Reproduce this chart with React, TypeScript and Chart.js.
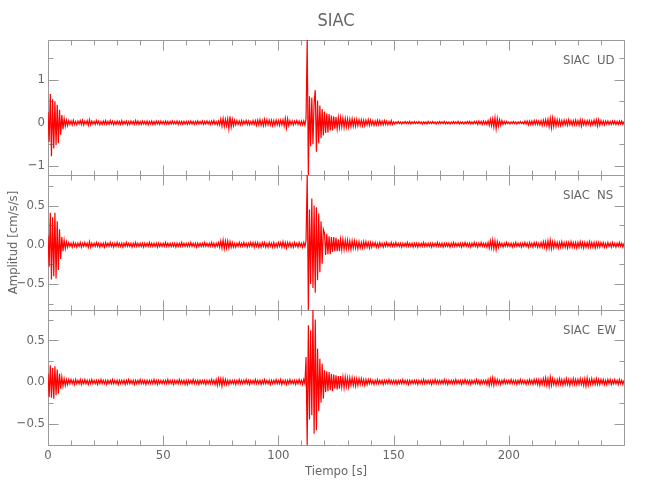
import React, { useEffect, useRef } from "react";
import { Chart, registerables } from "chart.js";

Chart.register(...registerables);

// ---------- text ----------
const TITLE = "SIAC";
const STATION = "SIAC";
const X_LABEL = "Tiempo [s]";
const Y_LABEL = "Amplitud [cm/s/s]";
const COMPONENTS = ["UD", "NS", "EW"];

// ---------- axes ----------
const DT = 0.5; // sample spacing of the arrays below, seconds
const X_MIN = 0;
const X_MAX = 250;
const X_TICKS = [0, 50, 100, 150, 200];
const X_MINOR_STEP = 10;

const UD_TICKS = [-1, 0, 1];
const NS_TICKS = [-0.5, 0, 0.5];
const EW_TICKS = [-0.5, 0, 0.5];
const UD_MINOR_STEP = 0.5;
const NS_MINOR_STEP = 0.25;
const EW_MINOR_STEP = 0.25;
const UD_DECIMALS = 0;
const NS_DECIMALS = 1;
const EW_DECIMALS = 1;

// ---------- series (cm/s/s), one value every DT seconds from t = 0 ----------
const UD = [
  .25,-.45,.67,-.78,.55,-.60,.50,-.52,.42,-.48,.30,-.28,.18,-.15,.10,-.08,.06,-.07,.05,-.04,
  .04,-.05,.06,-.04,.03,-.05,.04,-.03,.05,-.04,.06,-.05,.04,-.03,.05,-.06,.07,-.05,.04,-.03,
  .03,-.04,.05,-.03,.04,-.05,.03,-.04,.04,-.03,.05,-.04,.03,-.04,.05,-.03,.04,-.05,.03,-.04,
  .04,-.03,.03,-.04,.05,-.04,.03,-.03,.04,-.05,.03,-.04,.04,-.03,.03,-.04,.05,-.03,.04,-.04,
  .03,-.04,.04,-.03,.03,-.04,.04,-.05,.03,-.03,.04,-.04,.03,-.04,.04,-.03,.03,-.04,.04,-.03,
  .03,-.03,.04,-.03,.03,-.04,.03,-.03,.04,-.03,.03,-.03,.04,-.04,.03,-.03,.03,-.04,.03,-.03,
  .03,-.04,.03,-.03,.04,-.03,.03,-.04,.03,-.03,.04,-.03,.03,-.03,.04,-.04,.03,-.03,.04,-.03,
  .03,-.04,.04,-.03,.05,-.04,.03,-.05,.04,-.05,.09,-.08,.10,-.09,.08,-.07,.09,-.14,.15,-.10,
  .08,-.07,.06,-.05,.05,-.04,.04,-.05,.05,-.04,.04,-.03,.05,-.04,.04,-.05,.03,-.04,.05,-.04,
  .05,-.06,.06,-.05,.07,-.06,.05,-.07,.08,-.06,.07,-.05,.06,-.05,.06,-.07,.05,-.06,.06,-.05,
  .05,-.06,.06,-.05,.07,-.08,.10,-.12,.09,-.07,.05,-.04,.04,-.05,.04,-.03,.05,-.04,.04,-.05,
  .04,-.05,.04,-.06,.10,1.93,-1.22,.62,-.55,.58,-.50,.48,.76,-.68,.52,-.48,.40,-.36,.32,-.30,
  .26,-.24,.22,-.23,.20,-.18,.17,-.18,.15,-.14,.13,-.14,.12,-.11,.12,-.10,.11,-.11,.10,-.09,
  .09,-.10,.08,-.09,.09,-.08,.07,-.08,.08,-.07,.07,-.06,.07,-.07,.06,-.07,.06,-.05,.07,-.06,
  .06,-.05,.05,-.06,.04,-.05,.06,-.04,.05,-.05,.04,-.05,.05,-.04,.04,-.05,.03,-.04,.05,-.04,
  .02,-.03,.02,-.02,.03,-.02,.02,-.03,.02,-.02,.03,-.02,.02,-.02,.03,-.03,.02,-.02,.03,-.02,
  .02,-.02,.03,-.02,.02,-.03,.02,-.02,.02,-.03,.03,-.02,.02,-.02,.03,-.02,.02,-.03,.02,-.02,
  .03,-.02,.02,-.02,.03,-.03,.02,-.02,.02,-.03,.02,-.02,.03,-.02,.02,-.02,.03,-.03,.02,-.02,
  .02,-.03,.02,-.02,.03,-.02,.03,-.03,.02,-.03,.03,-.02,.03,-.04,.04,-.03,.03,-.04,.04,-.03,
  .03,-.04,.05,-.06,.08,-.07,.09,-.10,.12,-.14,.10,-.08,.07,-.06,.05,-.04,.03,-.03,.03,-.02,
  .02,-.03,.02,-.02,.03,-.02,.02,-.03,.02,-.02,.03,-.02,.02,-.03,.04,-.03,.04,-.05,.04,-.04,
  .04,-.05,.05,-.04,.05,-.04,.04,-.05,.05,-.06,.06,-.05,.07,-.06,.08,-.09,.10,-.12,.11,-.09,
  .09,-.08,.07,-.06,.06,-.07,.05,-.06,.06,-.05,.05,-.06,.07,-.05,.05,-.06,.05,-.05,.06,-.05,
  .05,-.06,.07,-.08,.06,-.05,.05,-.06,.05,-.04,.05,-.06,.04,-.05,.06,-.05,.07,-.08,.07,-.06,
  .05,-.04,.04,-.05,.04,-.03,.04,-.04,.03,-.04,.04,-.03,.04,-.04,.03,-.04,.04,-.03,.04,-.04,
  .03,
];

const NS = [
  .12,-.28,.41,-.44,.35,-.40,.41,-.43,.30,-.32,.20,-.18,.10,-.08,.06,-.05,.04,-.03,.03,-.02,
  .02,-.03,.03,-.02,.02,-.03,.02,-.02,.03,-.03,.02,-.02,.03,-.02,.02,-.03,.04,-.03,.02,-.02,
  .02,-.02,.03,-.02,.02,-.03,.02,-.02,.02,-.03,.03,-.02,.02,-.02,.03,-.02,.02,-.03,.02,-.02,
  .03,-.02,.02,-.02,.02,-.03,.02,-.02,.03,-.02,.02,-.02,.02,-.03,.02,-.02,.03,-.02,.02,-.02,
  .02,-.02,.02,-.03,.02,-.02,.02,-.02,.03,-.02,.02,-.02,.02,-.02,.02,-.03,.02,-.02,.02,-.02,
  .02,-.02,.03,-.02,.02,-.02,.02,-.02,.02,-.02,.02,-.03,.02,-.02,.02,-.02,.03,-.02,.02,-.02,
  .02,-.02,.02,-.02,.03,-.02,.02,-.02,.02,-.03,.02,-.02,.02,-.02,.02,-.02,.03,-.02,.02,-.02,
  .02,-.02,.03,-.02,.02,-.03,.02,-.02,.03,-.03,.05,-.04,.06,-.05,.05,-.04,.05,-.04,.04,-.03,
  .03,-.03,.02,-.03,.02,-.02,.03,-.02,.02,-.02,.03,-.02,.02,-.03,.02,-.02,.03,-.02,.03,-.03,
  .03,-.02,.03,-.03,.02,-.03,.03,-.02,.03,-.03,.02,-.03,.03,-.02,.02,-.03,.03,-.03,.02,-.03,
  .03,-.02,.03,-.03,.04,-.03,.03,-.04,.03,-.02,.03,-.03,.02,-.03,.03,-.02,.02,-.03,.03,-.02,
  .02,-.03,.03,-.02,.05,.89,-.83,.45,-.50,.59,-.55,.50,-.61,.48,-.45,.40,-.35,.30,-.24,.20,
  .15,-.13,.14,-.12,.11,-.12,.10,-.09,.10,-.08,.09,-.08,.07,-.08,.07,-.06,.07,-.06,.06,-.05,
  .06,-.05,.05,-.06,.05,-.04,.05,-.04,.04,-.05,.04,-.04,.03,-.04,.04,-.03,.04,-.03,.03,-.04,
  .03,-.03,.03,-.02,.03,-.03,.02,-.03,.03,-.02,.02,-.03,.02,-.02,.03,-.02,.02,-.02,.03,-.02,
  .02,-.02,.03,-.02,.02,-.02,.02,-.03,.02,-.02,.02,-.02,.03,-.02,.02,-.02,.02,-.03,.02,-.02,
  .02,-.03,.02,-.02,.02,-.02,.03,-.02,.02,-.02,.02,-.02,.02,-.03,.02,-.02,.02,-.02,.03,-.02,
  .02,-.02,.02,-.03,.02,-.02,.02,-.02,.02,-.03,.02,-.02,.03,-.02,.02,-.02,.02,-.02,.02,-.03,
  .02,-.02,.03,-.02,.02,-.02,.02,-.03,.02,-.02,.03,-.02,.02,-.03,.02,-.02,.03,-.02,.02,-.02,
  .02,-.03,.03,-.04,.05,-.04,.06,-.05,.05,-.06,.04,-.03,.03,-.02,.02,-.03,.02,-.02,.03,-.02,
  .02,-.02,.02,-.03,.02,-.02,.03,-.02,.02,-.02,.02,-.03,.02,-.02,.03,-.02,.02,-.03,.03,-.02,
  .02,-.03,.03,-.02,.03,-.03,.02,-.03,.03,-.03,.04,-.03,.04,-.05,.05,-.04,.06,-.05,.04,-.04,
  .04,-.03,.03,-.04,.03,-.03,.04,-.03,.03,-.03,.03,-.04,.03,-.03,.04,-.03,.03,-.03,.03,-.04,
  .03,-.03,.04,-.03,.03,-.04,.03,-.03,.03,-.03,.04,-.03,.03,-.03,.03,-.04,.03,-.03,.03,-.03,
  .03,-.02,.03,-.03,.02,-.03,.03,-.02,.02,-.03,.03,-.02,.02,-.03,.02,-.02,.03,-.02,.02,-.03,
  .02,
];

const EW = [
  .10,-.18,.20,-.19,.17,-.20,.19,-.16,.15,-.14,.10,-.08,.06,-.05,.04,-.04,.03,-.03,.03,-.02,
  .03,-.02,.02,-.03,.03,-.02,.02,-.02,.03,-.03,.02,-.02,.03,-.02,.02,-.03,.02,-.02,.03,-.02,
  .02,-.02,.02,-.03,.02,-.02,.03,-.02,.02,-.02,.02,-.03,.02,-.02,.02,-.02,.03,-.02,.02,-.02,
  .02,-.03,.02,-.02,.02,-.02,.02,-.03,.02,-.02,.03,-.02,.02,-.02,.02,-.03,.02,-.02,.02,-.02,
  .03,-.02,.02,-.02,.02,-.03,.02,-.02,.02,-.02,.02,-.02,.03,-.02,.02,-.03,.02,-.02,.02,-.02,
  .02,-.02,.02,-.02,.03,-.02,.02,-.02,.02,-.03,.02,-.02,.02,-.02,.03,-.02,.02,-.02,.02,-.03,
  .02,-.03,.02,-.02,.02,-.02,.03,-.02,.02,-.02,.02,-.03,.02,-.02,.02,-.02,.02,-.03,.02,-.02,
  .02,-.02,.03,-.02,.02,-.03,.03,-.04,.04,-.03,.04,-.05,.04,-.03,.03,-.03,.02,-.03,.02,-.02,
  .02,-.02,.02,-.03,.02,-.02,.03,-.02,.02,-.02,.02,-.02,.03,-.02,.02,-.03,.02,-.02,.02,-.02,
  .03,-.02,.02,-.02,.02,-.03,.02,-.02,.03,-.02,.02,-.02,.02,-.03,.02,-.02,.02,-.02,.03,-.02,
  .02,-.02,.03,-.03,.02,-.02,.02,-.03,.02,-.02,.03,-.02,.02,-.02,.02,-.03,.02,-.02,.03,-.02,
  .02,-.03,.03,-.02,.30,-.756,.68,-.45,.62,-.40,.864,-.62,.75,-.58,.40,-.35,.28,-.25,.22,-.20,
  .14,-.12,.13,-.11,.12,-.10,.10,-.11,.09,-.08,.08,-.09,.07,-.08,.07,-.06,.06,-.07,.06,-.05,
  .05,-.06,.05,-.04,.05,-.04,.04,-.05,.04,-.04,.04,-.03,.04,-.03,.03,-.04,.03,-.03,.03,-.02,
  .03,-.02,.02,-.03,.02,-.02,.03,-.02,.02,-.02,.02,-.03,.02,-.02,.02,-.02,.03,-.02,.02,-.02,
  .02,-.02,.02,-.03,.02,-.02,.02,-.02,.03,-.02,.02,-.02,.02,-.03,.02,-.02,.02,-.02,.02,-.02,
  .02,-.03,.02,-.02,.02,-.02,.03,-.02,.02,-.02,.02,-.02,.02,-.03,.02,-.02,.03,-.02,.02,-.02,
  .02,-.02,.02,-.02,.03,-.02,.02,-.03,.02,-.02,.02,-.02,.02,-.02,.03,-.02,.02,-.02,.02,-.03,
  .02,-.02,.03,-.02,.02,-.02,.02,-.03,.02,-.02,.02,-.02,.03,-.02,.02,-.03,.02,-.02,.02,-.02,
  .02,-.03,.03,-.04,.04,-.03,.05,-.04,.04,-.03,.03,-.02,.02,-.03,.02,-.02,.03,-.02,.02,-.02,
  .02,-.02,.03,-.02,.02,-.02,.02,-.03,.02,-.02,.03,-.02,.02,-.02,.02,-.03,.02,-.02,.03,-.02,
  .02,-.03,.03,-.02,.03,-.03,.03,-.04,.03,-.03,.04,-.03,.05,-.04,.04,-.05,.06,-.04,.04,-.03,
  .03,-.04,.03,-.03,.04,-.03,.03,-.04,.03,-.03,.04,-.03,.03,-.04,.03,-.03,.04,-.03,.03,-.03,
  .03,-.03,.04,-.03,.03,-.04,.04,-.05,.05,-.04,.03,-.03,.04,-.03,.03,-.03,.04,-.03,.03,-.03,
  .03,-.02,.03,-.03,.02,-.03,.03,-.02,.03,-.03,.02,-.02,.03,-.02,.02,-.03,.03,-.02,.02,-.03,
  .02,
];

// ---------- style / layout ----------
const W = 650;
const H = 500;
const PANEL_TOP = 40;
const PANEL_H = 135;
const PLOT_LEFT = 48;
const PLOT_RIGHT_PAD = 26;
const XAXIS_H = 34;
const MAJOR_LEN = 10;
const MINOR_LEN = 5;
const FONT = "'Liberation Sans Narrow', 'DejaVu Sans Condensed', 'DejaVu Sans', sans-serif";
const TEXT_COLOR = "#666666";
const AXIS_COLOR = "#9a9a9a";
const LINE_COLOR = "#ff0000";
const LINE_WIDTH = 1.2;

const SERIES = [UD, NS, EW];
const Y_TICKS = [UD_TICKS, NS_TICKS, EW_TICKS];
const Y_MINOR = [UD_MINOR_STEP, NS_MINOR_STEP, EW_MINOR_STEP];
const Y_DECIMALS = [UD_DECIMALS, NS_DECIMALS, EW_DECIMALS];

const fmt = (v: number, d: number) => {
  const s = Math.abs(v).toFixed(d);
  return v < -1e-9 ? "\u2212" + s : s;
};

const framePlugin = {
  id: "seisFrame",
  beforeDatasetsDraw(chart: any, _args: any, opts: any) {
    const { ctx, chartArea: a, scales } = chart;
    const xs = scales.x;
    const ys = scales.y;
    const L = Math.round(a.left) + 0.5;
    const R = Math.round(a.right) + 0.5;
    const T = Math.round(a.top) + 0.5;
    const B = Math.round(a.bottom) + 0.5;
    ctx.save();
    ctx.strokeStyle = AXIS_COLOR;
    ctx.lineWidth = 1;
    ctx.beginPath();
    ctx.rect(L, T, R - L, B - T);
    const nx = Math.round((X_MAX - X_MIN) / X_MINOR_STEP);
    for (let i = 0; i <= nx; i++) {
      const v = X_MIN + i * X_MINOR_STEP;
      const px = Math.round(xs.getPixelForValue(v)) + 0.5;
      const len = X_TICKS.includes(v) ? MAJOR_LEN : MINOR_LEN;
      ctx.moveTo(px, B);
      ctx.lineTo(px, B - len);
      ctx.moveTo(px, T);
      ctx.lineTo(px, T + len);
    }
    const step = opts.minorStep;
    const i0 = Math.ceil(ys.min / step - 1e-9);
    const i1 = Math.floor(ys.max / step + 1e-9);
    for (let i = i0; i <= i1; i++) {
      const v = i * step;
      const py = Math.round(ys.getPixelForValue(v)) + 0.5;
      const major = opts.major.some((m: number) => Math.abs(m - v) < 1e-9);
      const len = major ? MAJOR_LEN : MINOR_LEN;
      ctx.moveTo(L, py);
      ctx.lineTo(L + len, py);
      ctx.moveTo(R, py);
      ctx.lineTo(R - len, py);
    }
    ctx.stroke();
    ctx.fillStyle = TEXT_COLOR;
    ctx.font = `13px ${FONT}`;
    ctx.textBaseline = "middle";
    ctx.textAlign = "left";
    ctx.fillText(STATION, a.right - 61, a.top + 21);
    ctx.fillText(opts.component, a.right - 27, a.top + 21);
    ctx.restore();
  },
};

function makeConfig(i: number): any {
  const values = SERIES[i];
  const top = PANEL_TOP + i * PANEL_H;
  const bottom = top + PANEL_H;
  const isFirst = i === 0;
  const isMid = i === 1;
  const isLast = i === SERIES.length - 1;
  const font = { family: FONT, size: 13 };
  return {
    type: "line",
    data: {
      datasets: [
        {
          data: values.map((v, k) => ({ x: X_MIN + k * DT, y: v })),
          borderColor: LINE_COLOR,
          borderWidth: LINE_WIDTH,
          pointRadius: 0,
          pointHoverRadius: 0,
          tension: 0,
          fill: false,
        },
      ],
    },
    options: {
      responsive: false,
      animation: false,
      events: [],
      parsing: false,
      normalized: true,
      layout: {
        padding: {
          left: 0,
          right: PLOT_RIGHT_PAD,
          top: isFirst ? 0 : top,
          bottom: isLast ? H - bottom - XAXIS_H : H - bottom,
        },
      },
      plugins: {
        legend: { display: false },
        tooltip: { enabled: false },
        title: {
          display: isFirst,
          fullSize: false,
          text: TITLE,
          color: TEXT_COLOR,
          font: { family: FONT, size: 18, weight: "normal", lineHeight: 1.2 },
          padding: { top: 11, bottom: PANEL_TOP - 11 - 18 * 1.2 },
        },
        seisFrame: { major: Y_TICKS[i], minorStep: Y_MINOR[i], component: COMPONENTS[i] },
      },
      scales: {
        x: {
          type: "linear",
          min: X_MIN,
          max: X_MAX,
          display: isLast,
          afterBuildTicks: (s: any) => {
            s.ticks = X_TICKS.map((v) => ({ value: v }));
          },
          ticks: {
            color: TEXT_COLOR,
            font,
            padding: 3,
            maxRotation: 0,
            autoSkip: false,
            callback: (v: any) => String(v),
          },
          grid: { display: false, drawTicks: false },
          border: { display: false },
          title: {
            display: true,
            text: X_LABEL,
            color: TEXT_COLOR,
            font,
            padding: { top: 1, bottom: 0 },
          },
          afterFit: (s: any) => {
            s.height = isLast ? XAXIS_H : 0;
          },
        },
        y: {
          type: "linear",
          min: Math.min(...values),
          max: Math.max(...values),
          afterBuildTicks: (s: any) => {
            s.ticks = Y_TICKS[i].map((v) => ({ value: v }));
          },
          ticks: {
            color: TEXT_COLOR,
            font,
            padding: 3,
            autoSkip: false,
            callback: (v: any) => fmt(Number(v), Y_DECIMALS[i]),
          },
          grid: { display: false, drawTicks: false },
          border: { display: false },
          title: {
            display: isMid,
            text: Y_LABEL,
            color: TEXT_COLOR,
            font,
            padding: { top: 6, bottom: 0 },
          },
          afterFit: (s: any) => {
            s.width = PLOT_LEFT;
          },
        },
      },
    },
    plugins: [framePlugin],
  };
}

function Panel({ index }: { index: number }) {
  const ref = useRef<HTMLCanvasElement | null>(null);
  useEffect(() => {
    if (!ref.current) return;
    const chart = new Chart(ref.current, makeConfig(index));
    return () => chart.destroy();
  }, [index]);
  return (
    <canvas
      ref={ref}
      width={W}
      height={H}
      style={{ position: "absolute", left: 0, top: 0, width: W, height: H }}
    />
  );
}

export default function App() {
  return (
    <div style={{ position: "absolute", left: 0, top: 0, width: W, height: H, background: "#fff" }}>
      {SERIES.map((_, i) => (
        <Panel key={i} index={i} />
      ))}
    </div>
  );
}
